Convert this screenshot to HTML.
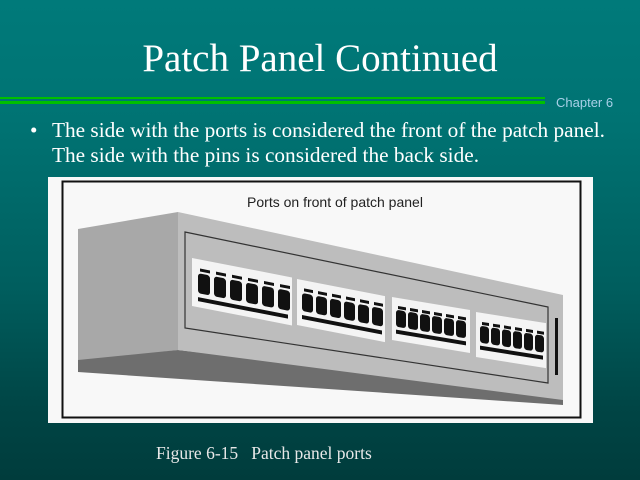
<!DOCTYPE html>
<html><head><meta charset="utf-8"><style>
html,body{margin:0;padding:0}
body{width:640px;height:480px;overflow:hidden;position:relative;background:linear-gradient(#007a7a 0%,#007373 25%,#005e5e 60%,#004545 85%,#003c3c 100%);font-family:"Liberation Serif",serif}
.t{position:absolute;left:0;width:640px;text-align:center;top:36px;color:#fff;font-size:39px}
.ch{position:absolute;left:556px;top:95px;color:#a8d0e8;font-family:"Liberation Sans",sans-serif;font-size:13px}
.b{position:absolute;left:30px;top:118px;color:#fff;font-size:21.3px;line-height:25px;white-space:nowrap}
.cap{position:absolute;left:156px;top:443px;color:#e8e8e8;font-size:17.5px;white-space:pre}
</style></head><body>
<div class="t">Patch Panel Continued</div>
<div style="position:absolute;left:0;top:97px;width:545px;height:2px;background:#00c000"></div>
<div style="position:absolute;left:0;top:101px;width:545px;height:3px;background:#00c000"></div>
<div class="ch">Chapter 6</div>
<div class="b"><span style="position:absolute;left:0">•</span><div style="margin-left:22px">The side with the ports is considered the front of the patch panel.<br>The side with the pins is considered the back side.</div></div>
<svg style="position:absolute;left:0;top:0" width="640" height="480">
<rect x="48" y="177" width="545" height="246" fill="#f8f8f8"/>
<rect x="62.5" y="181.5" width="518" height="236" fill="none" stroke="#111" stroke-width="2"/>
<text x="335" y="207" text-anchor="middle" font-family="Liberation Sans,sans-serif" font-size="14" fill="#222">Ports on front of patch panel</text>
<polygon points="78,229 178,212 178,350 78,362" fill="#a8a8a8"/>
<polygon points="78,360 178,350 563,394 563,405 78,372" fill="#6e6e6e"/>
<polygon points="178,212 563,295 563,400 178,350" fill="#bdbdbd"/>
<polygon points="185,232 548,307 548,383 185,328" fill="none" stroke="#333" stroke-width="1.2"/>
<rect x="555" y="318" width="3" height="57" fill="#111"/>
<g transform="translate(192,258) skewY(11)">
<rect width="100" height="48" fill="#f4f4f4"/>
<g fill="#111">
<rect x="8" y="9" width="10" height="3"/><rect x="6" y="14" width="12" height="20" rx="3"/>
<rect x="24" y="9" width="10" height="3"/><rect x="22" y="14" width="12" height="20" rx="3"/>
<rect x="40" y="9" width="10" height="3"/><rect x="38" y="14" width="12" height="20" rx="3"/>
<rect x="56" y="9" width="10" height="3"/><rect x="54" y="14" width="12" height="20" rx="3"/>
<rect x="72" y="9" width="10" height="3"/><rect x="70" y="14" width="12" height="20" rx="3"/>
<rect x="88" y="9" width="10" height="3"/><rect x="86" y="14" width="12" height="20" rx="3"/>
<rect x="6" y="38" width="90" height="4"/></g></g>
<g transform="translate(297,279) skewY(11)">
<rect width="88" height="46" fill="#f4f4f4"/>
<g fill="#111">
<rect x="7" y="8" width="9" height="3"/><rect x="5" y="13" width="11" height="18" rx="3"/>
<rect x="21" y="8" width="9" height="3"/><rect x="19" y="13" width="11" height="18" rx="3"/>
<rect x="35" y="8" width="9" height="3"/><rect x="33" y="13" width="11" height="18" rx="3"/>
<rect x="49" y="8" width="9" height="3"/><rect x="47" y="13" width="11" height="18" rx="3"/>
<rect x="63" y="8" width="9" height="3"/><rect x="61" y="13" width="11" height="18" rx="3"/>
<rect x="77" y="8" width="9" height="3"/><rect x="75" y="13" width="11" height="18" rx="3"/>
<rect x="5" y="35" width="80" height="4"/></g></g>
<g transform="translate(392,297) skewY(9.5)">
<rect width="78" height="43" fill="#f4f4f4"/>
<g fill="#111">
<rect x="6" y="8" width="8" height="3"/><rect x="4" y="12" width="10" height="17" rx="3"/>
<rect x="18" y="8" width="8" height="3"/><rect x="16" y="12" width="10" height="17" rx="3"/>
<rect x="30" y="8" width="8" height="3"/><rect x="28" y="12" width="10" height="17" rx="3"/>
<rect x="42" y="8" width="8" height="3"/><rect x="40" y="12" width="10" height="17" rx="3"/>
<rect x="54" y="8" width="8" height="3"/><rect x="52" y="12" width="10" height="17" rx="3"/>
<rect x="66" y="8" width="8" height="3"/><rect x="64" y="12" width="10" height="17" rx="3"/>
<rect x="4" y="32" width="70" height="4"/></g></g>
<g transform="translate(476,312) skewY(9)">
<rect width="70" height="45" fill="#f4f4f4"/>
<g fill="#111">
<rect x="6" y="9" width="7" height="3"/><rect x="4" y="13" width="9" height="17" rx="3"/>
<rect x="17" y="9" width="7" height="3"/><rect x="15" y="13" width="9" height="17" rx="3"/>
<rect x="28" y="9" width="7" height="3"/><rect x="26" y="13" width="9" height="17" rx="3"/>
<rect x="39" y="9" width="7" height="3"/><rect x="37" y="13" width="9" height="17" rx="3"/>
<rect x="50" y="9" width="7" height="3"/><rect x="48" y="13" width="9" height="17" rx="3"/>
<rect x="61" y="9" width="7" height="3"/><rect x="59" y="13" width="9" height="17" rx="3"/>
<rect x="4" y="33" width="63" height="4"/></g></g>
</svg>
<div class="cap">Figure 6-15   Patch panel ports</div>
</body></html>
